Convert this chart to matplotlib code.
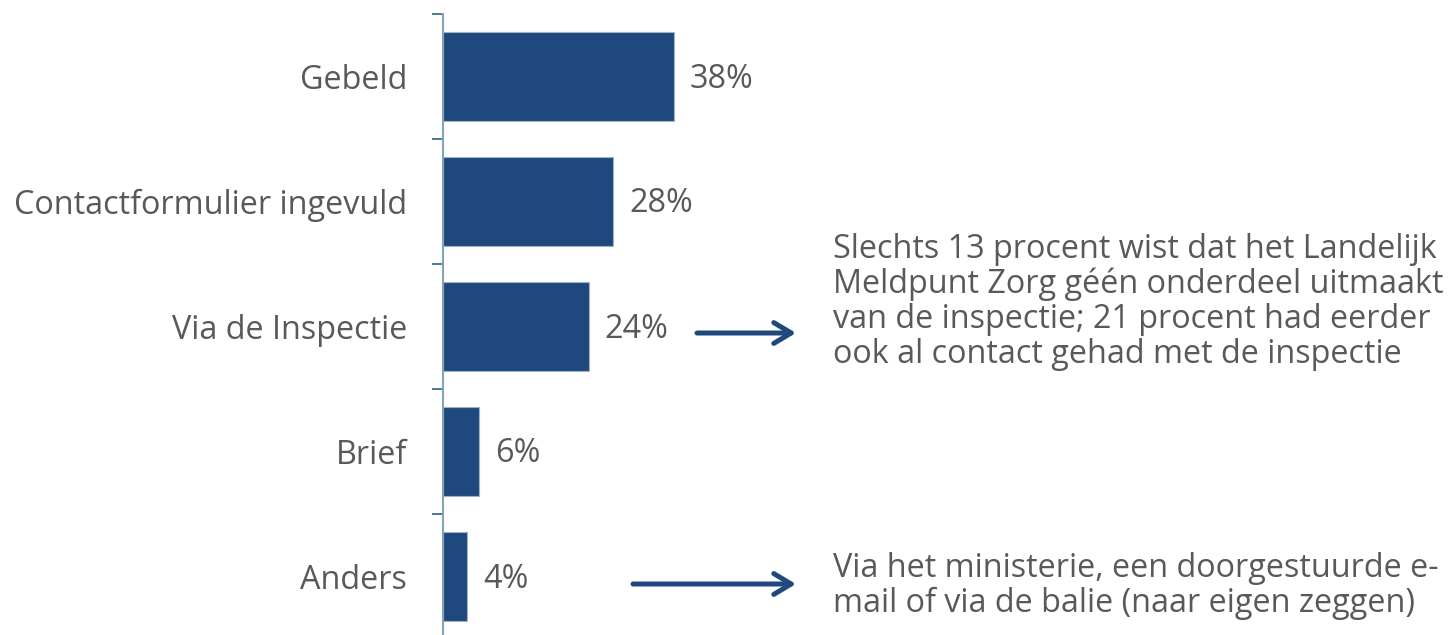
import matplotlib
matplotlib.use("Agg")
import matplotlib.pyplot as plt
import numpy as np

categories = ["Gebeld", "Contactformulier ingevuld", "Via de Inspectie", "Brief", "Anders"]
values = [38, 28, 24, 6, 4]
value_labels = ["38%", "28%", "24%", "6%", "4%"]

note_inspectie = ("Slechts 13 procent wist dat het Landelijk\n"
                  "Meldpunt Zorg géén onderdeel uitmaakt\n"
                  "van de inspectie; 21 procent had eerder\n"
                  "ook al contact gehad met de inspectie")
note_anders = ("Via het ministerie, een doorgestuurde e-\n"
               "mail of via de balie (naar eigen zeggen)")

BAR = "#1F497D"
TXT = "#595959"
plt.rcParams["font.family"] = ["Open Sans", "DejaVu Sans"]
FS = 23.3

W, H = 1452, 635
fig = plt.figure(figsize=(W / 100, H / 100), dpi=100)
ax = fig.add_axes([443 / W, 1 - 639 / H, 608 / W, 625 / H])

y = np.arange(len(categories))
ax.barh(y, values, height=0.71, color=BAR, edgecolor="#9fb3c8", linewidth=0.8)
ax.set_xlim(0, 100)
ax.set_ylim(len(categories) - 0.5, -0.5)

for yi, v, lab in zip(y, values, value_labels):
    ax.text(v + 2.6, yi + 0.02, lab, va="center", ha="left", fontsize=FS, color=TXT)

for s in ["top", "right", "bottom"]:
    ax.spines[s].set_visible(False)
ax.spines["left"].set_color("#86a3b8")
ax.spines["left"].set_linewidth(1.5)
ax.set_xticks([])
ax.set_yticks(np.arange(len(categories) + 1) - 0.5)
ax.set_yticklabels([])
ax.tick_params(axis="y", which="major", length=8, width=1.2, color="#2a6581", direction="out")
ax.set_yticks(y, minor=True)
ax.set_yticklabels(categories, minor=True)
ax.tick_params(axis="y", which="minor", length=0, pad=26, labelsize=FS, labelcolor=TXT)

# annotation arrows and notes
arrow_kw = dict(arrowstyle="->,head_length=1.25,head_width=0.75", color=BAR, lw=3.6,
                capstyle="round", joinstyle="round", shrinkA=0, shrinkB=0)
ax.annotate("", xy=(796 / W, 1 - 333 / H), xytext=(697 / W, 1 - 333 / H),
            xycoords="figure fraction", textcoords="figure fraction", arrowprops=arrow_kw)
ax.annotate("", xy=(796 / W, 1 - 584 / H), xytext=(633 / W, 1 - 584 / H),
            xycoords="figure fraction", textcoords="figure fraction", arrowprops=arrow_kw)

fig.text(833 / W, 1 - 302 / H, note_inspectie, ha="left", va="center",
         fontsize=FS, color=TXT, linespacing=1.07)
fig.text(833 / W, 1 - 586 / H, note_anders, ha="left", va="center",
         fontsize=FS, color=TXT, linespacing=1.07)

fig.savefig("out.png", dpi=100)
